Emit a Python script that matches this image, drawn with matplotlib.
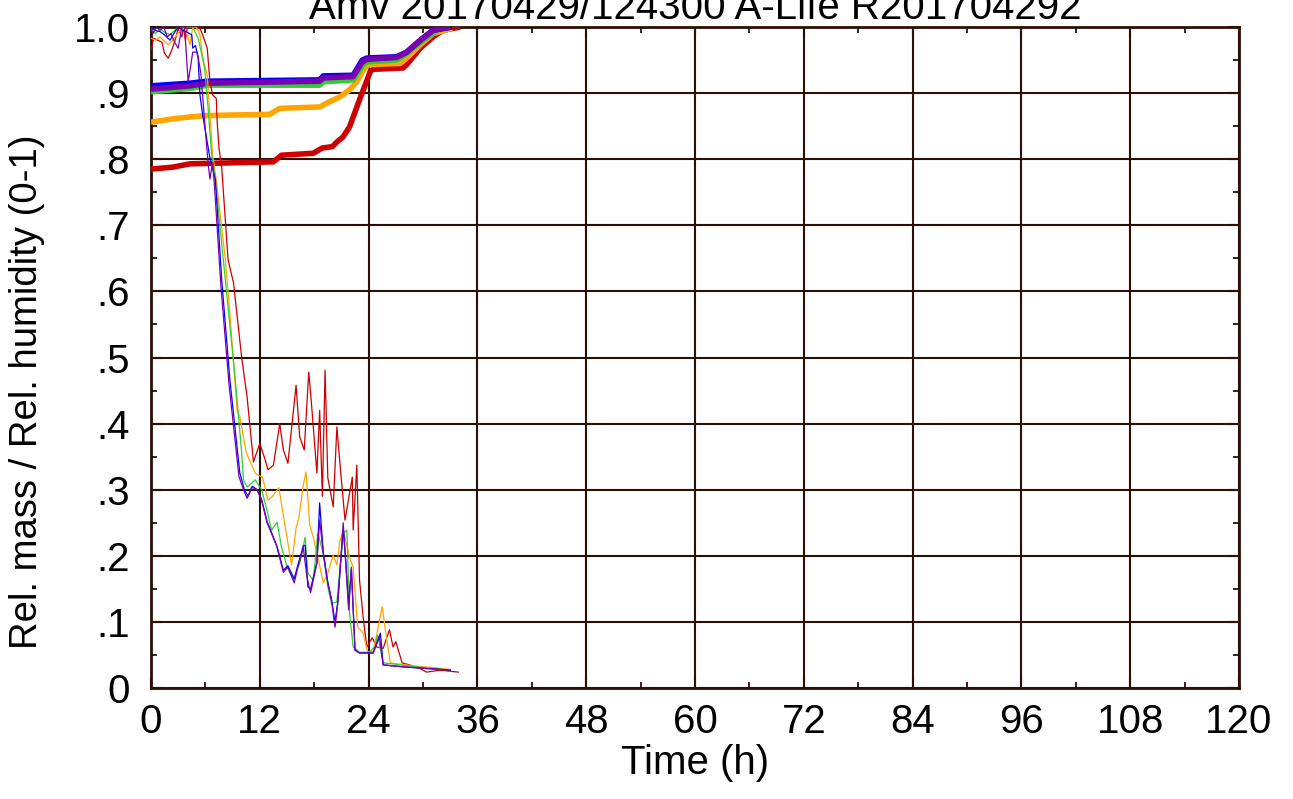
"""
Rel. mass / Rel. humidity vs time
gnuplot-style line chart (matplotlib)
"""

import matplotlib
matplotlib.use('Agg')
from matplotlib import pyplot as plt
from matplotlib.ticker import MultipleLocator

plt.rcParams['font.family'] = ['Liberation Sans Narrow', 'Liberation Sans', 'DejaVu Sans']

TITLE = 'Amv 20170429/124300 A-Life R201704292'
X_TICKS = [0, 12, 24, 36, 48, 60, 72, 84, 96, 108, 120]
Y_TICKS = [0, 0.1, 0.2, 0.3, 0.4, 0.5, 0.6, 0.7, 0.8, 0.9, 1.0]
Y_LABELS = ['0', '.1', '.2', '.3', '.4', '.5', '.6', '.7', '.8', '.9', '1.0']

# series colours (gnuplot-ish)
COLORS = ['#cc0000', '#ffa500', '#33cc33', '#0000ff', '#7a00b0']

# ---- relative mass (thick lines) ----
red_mass_h = [0, 2.4, 4.3, 13.5, 14.4, 17.9, 18.9, 20.0, 20.5, 21.2, 21.9, 23.0, 24.2, 24.5,
              27.8, 28.2, 29.7, 31.1, 32.2, 34.1]
red_mass_v = [0.785, 0.788, 0.793, 0.796, 0.806, 0.809, 0.817, 0.819, 0.826, 0.834, 0.849, 0.89,
              0.933, 0.936, 0.938, 0.943, 0.968, 0.985, 0.995, 1.0]

orange_mass_h = [0, 2.4, 4.3, 6.2, 13.1, 14.2, 18.6, 19.4, 20.8, 21.9, 22.7, 23.4, 24.0, 27.5,
                 28.2, 29.7, 31.1, 33.2]
orange_mass_v = [0.856, 0.861, 0.864, 0.866, 0.868, 0.877, 0.879, 0.885, 0.894, 0.905, 0.917,
                 0.935, 0.943, 0.945, 0.953, 0.973, 0.99, 0.998]

green_mass_h = [0, 4.3, 6.2, 18.6, 19.0, 22.3, 23.4, 23.8, 27.1, 28.2, 30.0, 31.5, 32.7]
green_mass_v = [0.902, 0.907, 0.912, 0.912, 0.917, 0.92, 0.943, 0.947, 0.95, 0.96, 0.98, 0.995, 1.0]

blue_mass_h = [0, 4.3, 6.2, 18.6, 19.0, 22.3, 23.3, 23.8, 27.1, 28.2, 29.7, 31.1, 33.2]
blue_mass_v = [0.911, 0.915, 0.918, 0.92, 0.926, 0.927, 0.95, 0.953, 0.955, 0.962, 0.98, 0.995, 1.0]

purple_mass_h = [0, 4.3, 6.2, 18.6, 19.0, 22.3, 23.3, 23.8, 27.1, 28.2, 29.7, 31.1, 33.0]
purple_mass_v = [0.906, 0.911, 0.915, 0.918, 0.923, 0.925, 0.947, 0.951, 0.954, 0.962, 0.98, 0.995, 1.0]

# ---- relative humidity (thin lines) ----
red_rh_h = [0, 0.3, 1.2, 1.5, 1.9, 2.2, 2.6, 3.0, 3.4, 3.6, 3.8, 4.0, 4.6, 5.4, 5.7, 6.2, 6.5, 6.8,
            7.2, 7.3, 7.5, 7.8, 8.5, 9.1, 10.0, 10.6, 11.3, 12.0, 12.6, 12.9, 13.5, 14.2, 14.6,
            15.1, 16.0, 16.4, 16.9, 17.4, 17.7, 18.3, 18.6, 18.9, 19.2, 19.5, 20.1, 20.5, 20.9,
            21.4, 22.2, 22.3, 22.7, 23.0, 23.4, 23.8, 24.4, 24.9, 25.6, 26.3, 26.7, 27.0, 27.7,
            29.3, 30.4, 31.9, 33.9]
red_rh_v = [0.965, 0.983, 0.977, 0.96, 0.953, 0.962, 0.977, 0.998, 0.985, 1.0, 0.98, 1.0, 1.0,
            0.998, 0.988, 0.968, 0.917, 0.897, 0.892, 0.856, 0.817, 0.787, 0.648, 0.613, 0.5, 0.44,
            0.342, 0.37, 0.345, 0.33, 0.337, 0.4, 0.36, 0.34, 0.458, 0.38, 0.36, 0.478, 0.43,
            0.325, 0.42, 0.29, 0.481, 0.318, 0.274, 0.395, 0.33, 0.254, 0.319, 0.239, 0.337,
            0.163, 0.107, 0.062, 0.076, 0.062, 0.06, 0.088, 0.062, 0.07, 0.038, 0.032, 0.024,
            0.027, 0.024]

orange_rh_h = [0, 0.5, 1.0, 1.9, 2.4, 3.0, 3.5, 4.0, 4.3, 4.6, 5.0, 5.4, 5.7, 6.2, 6.5, 6.8, 7.2,
               8.2, 8.7, 9.5, 9.8, 10.5, 11.5, 11.8, 12.3, 12.9, 13.4, 14.1, 14.8, 15.5, 16.0,
               16.3, 16.8, 17.1, 17.5, 17.9, 18.4, 19.0, 19.5, 20.1, 20.5, 20.8, 21.2, 21.9, 22.3,
               22.8, 23.4, 23.9, 24.5, 25.0, 25.5, 26.0, 26.4, 28.0, 29.3, 31.9, 33.0]
orange_rh_v = [0.983, 0.98, 0.985, 0.973, 0.98, 0.991, 1.0, 0.988, 0.973, 1.0, 1.0, 0.988, 0.953,
               0.927, 0.867, 0.806, 0.769, 0.648, 0.567, 0.42, 0.41, 0.356, 0.325, 0.322, 0.319,
               0.284, 0.29, 0.303, 0.244, 0.186, 0.242, 0.257, 0.307, 0.327, 0.247, 0.228, 0.198,
               0.159, 0.174, 0.201, 0.186, 0.221, 0.239, 0.198, 0.182, 0.092, 0.083, 0.054, 0.055,
               0.088, 0.123, 0.073, 0.038, 0.035, 0.033, 0.03, 0.028]

green_rh_h = [0, 0.5, 1.0, 1.5, 2.1, 2.6, 3.0, 4.0, 4.6, 5.2, 5.6, 5.9, 6.3, 6.7, 7.1, 8.2, 9.3,
              10.0, 10.2, 10.6, 11.5, 12.2, 12.7, 13.3, 13.9, 14.4, 15.0, 15.7, 16.4, 17.0, 17.3,
              17.9, 18.4, 19.0, 19.5, 19.9, 20.5, 21.2, 21.6, 21.9, 22.3, 23.0, 24.0, 24.7, 25.0,
              25.6, 27.0, 28.5, 33.0]
green_rh_v = [0.998, 0.99, 0.997, 0.992, 0.988, 0.995, 1.0, 1.0, 1.0, 0.983, 0.958, 0.938, 0.877,
              0.806, 0.769, 0.617, 0.466, 0.356, 0.315, 0.304, 0.315, 0.3, 0.274, 0.239, 0.251,
              0.213, 0.183, 0.163, 0.189, 0.228, 0.174, 0.163, 0.234, 0.204, 0.153, 0.128, 0.13,
              0.234, 0.239, 0.113, 0.062, 0.054, 0.054, 0.062, 0.08, 0.038, 0.036, 0.033, 0.027]

blue_rh_h = [0, 0.4, 1.0, 1.5, 2.1, 2.6, 3.0, 3.5, 4.0, 4.5, 4.6, 4.9, 5.2, 5.4, 5.7, 6.2, 6.5,
             6.9, 7.1, 7.8, 8.7, 9.8, 10.3, 10.7, 11.2, 11.7, 12.2, 12.8, 13.5, 13.9, 14.6, 15.1,
             15.8, 16.2, 16.8, 17.0, 17.3, 17.6, 18.3, 18.6, 19.0, 19.5, 19.9, 20.3, 20.6, 21.2,
             21.5, 21.8, 22.1, 22.5, 23.0, 24.5, 25.3, 25.6, 27.8, 33.0]
blue_rh_v = [1.0, 0.995, 0.993, 0.988, 0.98, 0.992, 1.0, 0.995, 0.992, 0.988, 0.968, 0.972, 0.953,
             0.897, 0.867, 0.826, 0.802, 0.78, 0.769, 0.617, 0.466, 0.325, 0.3, 0.29, 0.305, 0.3,
             0.285, 0.252, 0.228, 0.214, 0.178, 0.185, 0.165, 0.186, 0.215, 0.216, 0.153, 0.15,
             0.19, 0.28, 0.205, 0.16, 0.135, 0.1, 0.13, 0.242, 0.19, 0.125, 0.18, 0.058, 0.053,
             0.053, 0.083, 0.035, 0.032, 0.027]

purple_rh_h = [0, 0.2, 0.6, 1.0, 1.4, 1.8, 2.2, 2.6, 3.0, 3.4, 3.7, 4.1, 4.4, 4.6, 5.1, 5.5, 5.9,
               6.3, 6.5, 6.8, 7.0, 7.7, 8.6, 9.7, 10.2, 10.6, 11.1, 11.7, 12.2, 12.8, 13.5, 13.9,
               14.6, 15.1, 15.8, 16.2, 16.8, 17.2, 17.6, 18.3, 18.6, 19.0, 19.5, 19.9, 20.3, 20.6,
               21.2, 21.5, 21.8, 22.1, 22.5, 23.0, 24.5, 25.2, 25.6, 27.8, 33.0]
purple_rh_v = [0.998, 0.99, 1.0, 0.995, 1.0, 0.985, 0.99, 0.977, 0.968, 1.0, 1.0, 0.917, 0.943,
               0.962, 0.962, 0.93, 0.86, 0.794, 0.77, 0.795, 0.76, 0.61, 0.46, 0.32, 0.3, 0.287,
               0.304, 0.3, 0.284, 0.25, 0.227, 0.213, 0.175, 0.183, 0.159, 0.183, 0.212, 0.168,
               0.144, 0.189, 0.254, 0.204, 0.159, 0.133, 0.092, 0.128, 0.25, 0.183, 0.118, 0.183,
               0.057, 0.053, 0.053, 0.077, 0.035, 0.032, 0.027]

MASS = [(red_mass_h, red_mass_v), (orange_mass_h, orange_mass_v), (green_mass_h, green_mass_v),
        (blue_mass_h, blue_mass_v), (purple_mass_h, purple_mass_v)]
RH = [(red_rh_h, red_rh_v), (orange_rh_h, orange_rh_v), (green_rh_h, green_rh_v),
      (blue_rh_h, blue_rh_v), (purple_rh_h, purple_rh_v)]

GRID_COLOR = '#2a1005'
FS = 29


def generated_report():
    fig = plt.figure(figsize=(12.93, 7.99), dpi=100)
    ax = fig.add_axes([151 / 1293, 1 - 688 / 799, (1239 - 151) / 1293, (688 - 27) / 799])

    # thick lines first, thin ones over them
    for (h, v), c in zip(MASS, COLORS):
        ax.plot(h, v, color=c, lw=4.0, solid_capstyle='butt', zorder=3)
    for (h, v), c in zip(RH, COLORS):
        ax.plot(h, v, color=c, lw=0.9, zorder=4)

    ax.set_xlim(0, 120)
    ax.set_ylim(0, 1)
    ax.set_xticks(X_TICKS)
    ax.set_yticks(Y_TICKS)
    ax.set_yticklabels(Y_LABELS)
    ax.xaxis.set_minor_locator(MultipleLocator(6))
    ax.yaxis.set_minor_locator(MultipleLocator(0.05))

    ax.grid(True, which='major', color=GRID_COLOR, lw=1.5, zorder=1)
    ax.set_axisbelow(True)
    for s in ax.spines.values():
        s.set_color(GRID_COLOR)
        s.set_linewidth(2)

    ax.tick_params(which='both', direction='in', top=True, right=True, color=GRID_COLOR,
                   labelsize=FS)
    ax.tick_params(which='major', length=8, width=1.5)
    ax.tick_params(which='minor', length=4.5, width=1.3)
    ax.tick_params(axis='y', which='major', pad=15)
    ax.tick_params(axis='x', which='major', pad=11)

    ax.set_xlabel('Time (h)', fontsize=FS, labelpad=2)
    ax.set_ylabel('Rel. mass / Rel. humidity (0-1)', fontsize=27.5)
    ax.yaxis.set_label_coords(-0.097, 0.448)
    ax.set_title(TITLE, fontsize=FS, pad=4)

    fig.savefig('out.png', dpi=100)


if __name__ == '__main__':
    generated_report()
